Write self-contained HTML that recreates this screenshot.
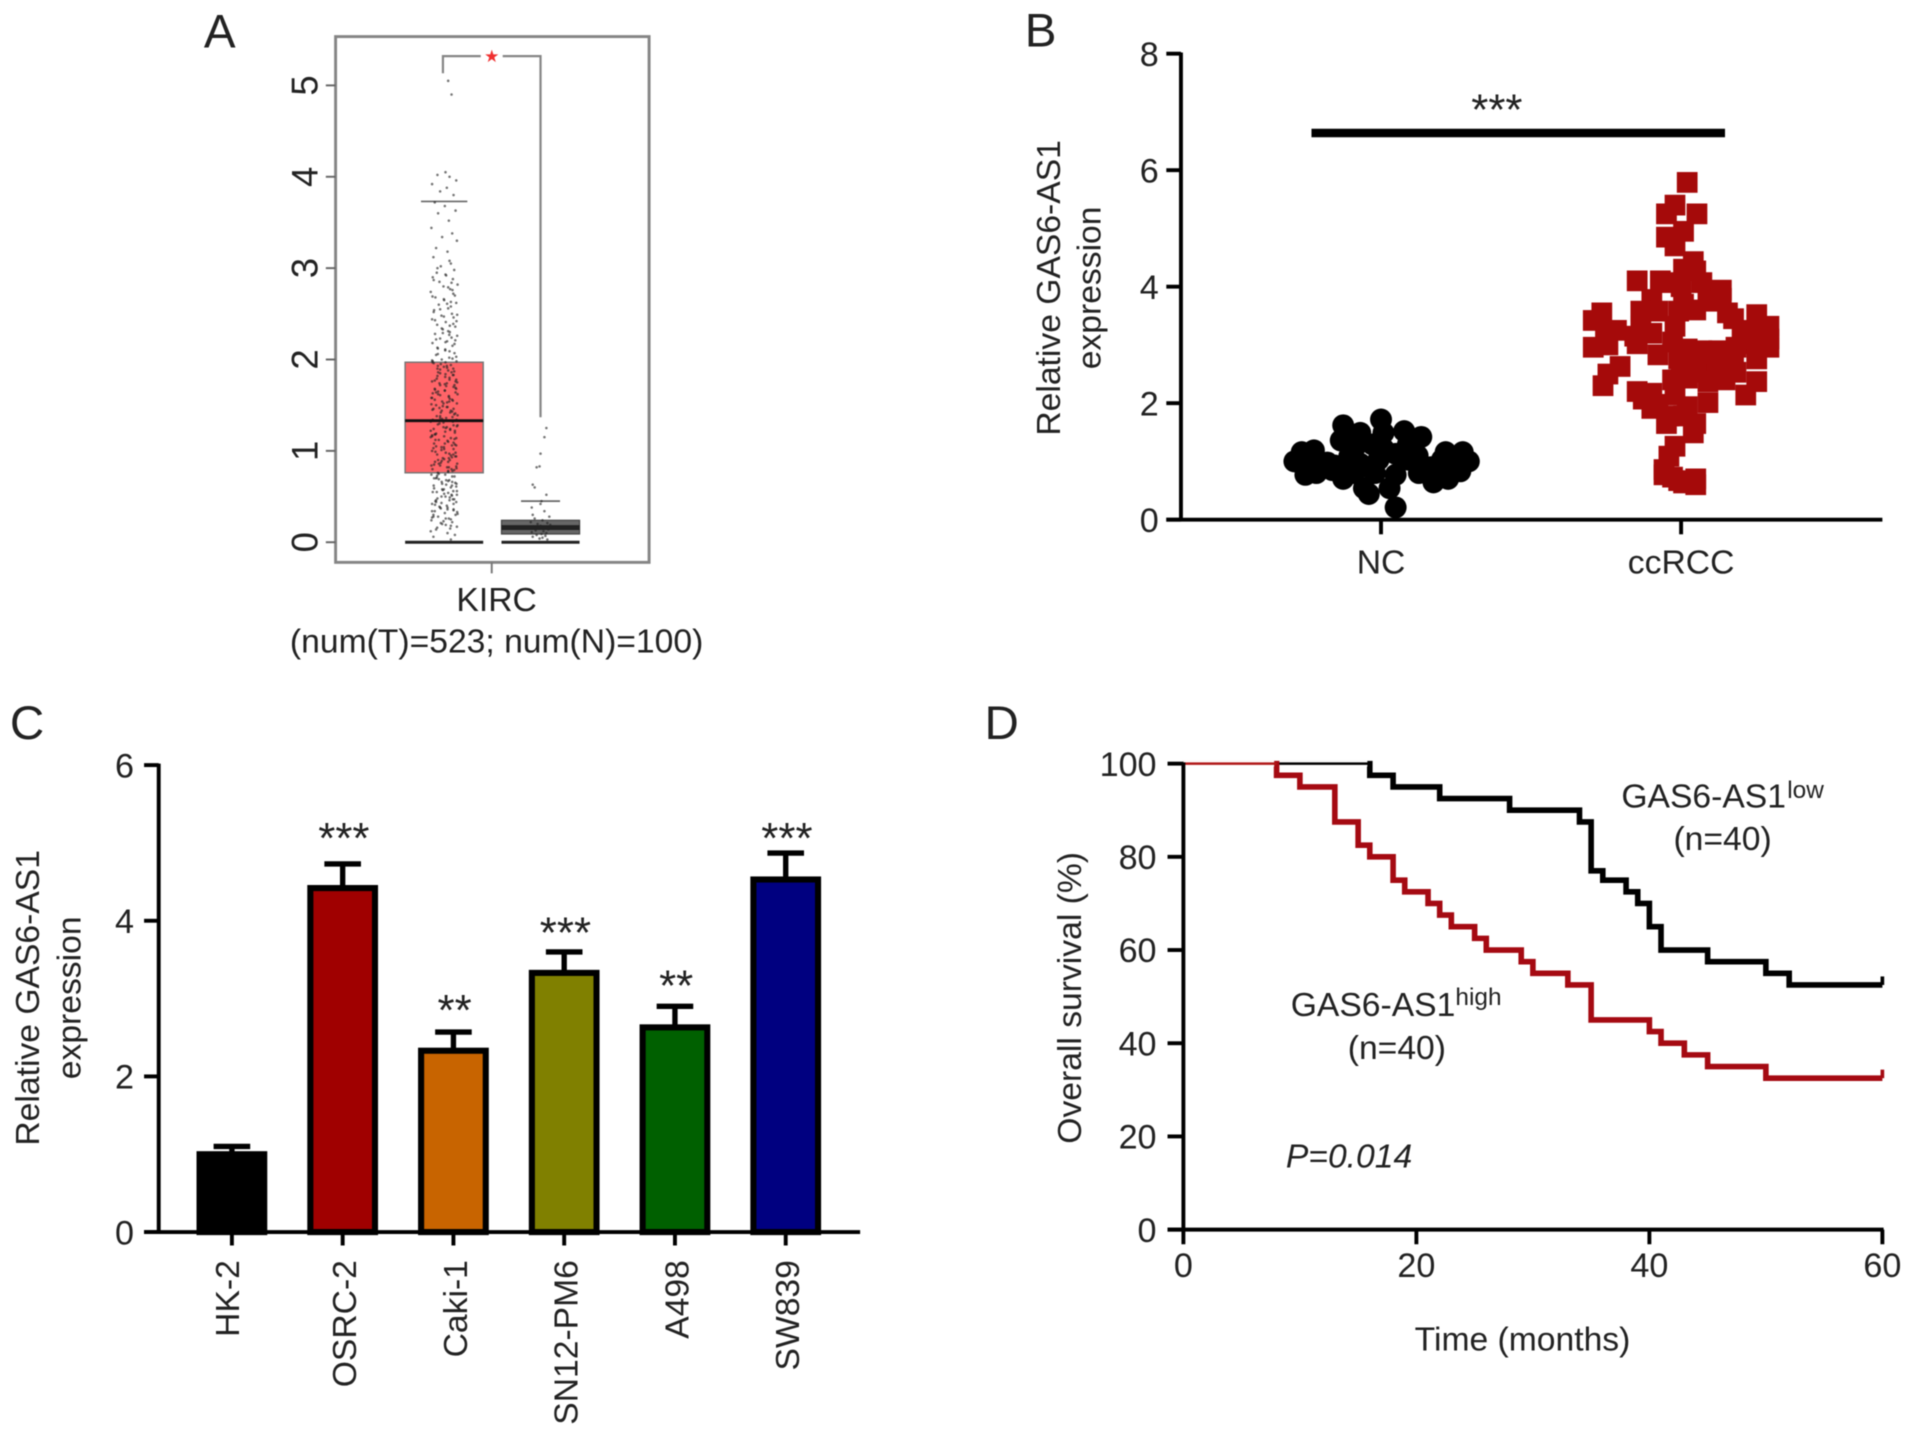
<!DOCTYPE html>
<html lang="en">
<head>
<meta charset="utf-8">
<title>GAS6-AS1 expression figure</title>
<style>
html,body{margin:0;padding:0;background:#fff;width:1913px;height:1437px;overflow:hidden}
svg{display:block;filter:blur(.55px)}
text{font-family:"Liberation Sans",sans-serif;fill:#222}
</style>
</head>
<body>
<svg id="fig" xmlns="http://www.w3.org/2000/svg" width="1913" height="1437" viewBox="0 0 1568 1178"></svg>
<script>
// ---------- Panel A data ----------
const boxTicksA = [0, 1, 2, 3, 4, 5];
const tumorBox = { low: 0, q1: 0.76, median: 1.33, q3: 1.97, high: 3.73 };
const normalBox = { low: 0, q1: 0.09, median: 0.16, q3: 0.24, high: 0.45 };
const tumorValues = [5.05,4.9,4.05,4.02,4.0,3.96,3.92,3.88,3.84,3.8,3.72,3.68,3.63,3.6,3.52,3.44,3.38,3.34,3.3,3.22,3.18,3.12,3.05,3.02,2.98,2.95,2.92,2.9,2.88,2.85,2.82,2.8,2.77,2.74,2.7,2.68,2.65,2.62,2.6,2.56,2.54,2.5,2.48,2.46,2.44,2.41,2.38,2.36,2.33,2.3,2.28,2.26,2.23,2.2,2.18,2.15,2.12,2.1,2.07,2.05,2.02,2.0,1.98,1.96,1.94,1.92,1.9,1.88,1.86,1.84,1.82,1.8,1.78,1.76,1.74,1.72,1.7,1.68,1.66,1.64,1.62,1.6,1.58,1.56,1.54,1.52,1.5,1.48,1.46,1.44,1.42,1.4,1.38,1.36,1.34,1.32,1.3,1.28,1.26,1.24,1.22,1.2,1.18,1.16,1.14,1.12,1.1,1.08,1.06,1.04,1.02,1.0,0.98,0.96,0.94,0.92,0.9,0.88,0.86,0.84,0.82,0.8,0.78,0.76,0.74,0.72,0.7,0.68,0.66,0.64,0.62,0.6,0.58,0.56,0.54,0.52,0.5,0.48,0.46,0.44,0.42,0.4,0.38,0.36,0.34,0.32,0.3,0.28,0.26,0.24,0.22,0.2,0.17,0.14,0.1,0.06,0.03,1.95,1.87,1.79,1.71,1.63,1.55,1.47,1.39,1.31,1.23,1.15,1.07,0.99,0.91,0.83,0.75,0.67,0.59,0.51,0.43,0.35,0.27,0.19,0.73,0.65,0.57,0.49,0.41,0.33,1.61,1.53,1.45,1.37,1.29,1.21,1.13,1.05,0.97,0.89,0.81,
2.87,2.63,2.47,2.39,2.31,2.24,2.19,2.13,2.09,2.03,1.99,1.93,1.89,1.83,1.77,1.73,1.69,1.65,1.59,1.51,1.43,1.35,1.27,1.19,1.11,1.03,0.95,0.87,0.79,0.71,0.63,0.55,0.47,0.39,0.31,0.23,0.15,0.12,0.08,0.45,0.53,0.61,0.69,0.77,0.85,0.93,1.01,1.09,1.17,1.25,1.33,1.41,1.49,1.57,1.67,1.75,1.85,1.91,1.97,2.01,2.06,2.11,2.17,2.22,2.27,2.34,2.42,2.52,2.58,2.66,2.72,2.79,2.84,2.93,3.0,3.08,1.06,1.16,1.26,1.36,1.46,1.56,1.66,1.76,1.86,0.92,0.84,0.72,0.64,0.56,0.44,0.36,0.28,0.18,0.37,0.47,0.55,0.68,1.98,1.83,1.74,1.62,1.52,1.42,1.32,1.22,1.12,1.02,0.94,0.86,0.78,0.7,0.62,0.5,0.42,0.34,0.26,0.16,2.21,2.29,2.37,2.43,2.49,2.55,2.61,2.69,2.76,1.93,1.81,1.72,1.64,1.54,1.44,1.34,1.24,1.14,1.04,0.96,0.88,0.8,1.97,1.9,1.78,1.68,1.58,1.48,1.38,1.28,1.18,1.08,0.98,0.9,0.82,0.74,0.66,0.58,0.52,0.46,0.38,0.3,0.25,0.21];
const tumorJitter = [0.3,0.55,0.1,-0.5,0.4,0.9,-0.9,0.2,-0.3,0.7,-0.7,0.05,0.85,-0.45,0.35,-0.95,0.6,-0.15,0.95,-0.6,0.25,-0.8,0.5,-0.25,0.75,-0.55,0.15,-0.85,0.65,-0.35,1,-0.05,0.45,-1,0.8,-0.65,0,0.9,-0.4,0.3,-0.75,0.58,-0.2,0.7,-0.9,0.12,-0.52,0.83,-0.1,0.42,-0.68,0.97,-0.3,0.22,-0.87,0.62,-0.47,0.08,0.77,-0.6,0.38,-0.18,0.92,-0.78,0.5,-0.02,0.68];
const normalValues = [1.25,1.15,0.97,0.82,0.83,0.63,0.6,0.52,0.45,0.42,0.38,0.34,0.3,0.28,0.26,0.24,0.22,0.21,0.2,0.19,0.18,0.17,0.16,0.15,0.14,0.13,0.12,0.11,0.1,0.09,0.08,0.07,0.06,0.05,0.04,0.03];
const normalJitter = [0.3,0.2,0.0,-0.2,-0.05,-0.4,-0.3,0.3,0.05,0.0,-0.45,0.2,-0.4,0.45,-0.3,0.1,-0.5,0.35,-0.15,0.5,0.0,-0.35,0.2,-0.1,0.4,-0.25,0.15,-0.45,0.3,0.05,-0.2,0.25,-0.4,0.1,-0.05,0.35];

// ---------- Panel B data ----------
const ticksB = [0, 2, 4, 6, 8];
const categoriesB = ["NC", "ccRCC"];
const ncValues = [0.21,0.44,0.54,0.54,1.72,1.62,1.52,1.49,1.42,1.36,1.49,1.29,1.29,1.22,1.16,1.19,1.16,1.16,1.09,1.13,1.0,0.96,1.0,0.93,1.0,0.96,1.03,0.9,0.96,1.03,1.03,0.77,0.8,0.7,0.8,0.8,0.77,0.64,0.7,0.8,0.83,1.22,0.98,0.9,1.1,0.85];
const ncOffsets = [12,-10,7,-14,0,-31,19,-17,33,-33,2,22,-7,-22,-65,-55,67,53,-26,12,-71,-65,-53,-38,72,62,50,41,-17,-2,22,-62,-53,-31,-22,-5,12,43,55,31,65,2,-44,-10,30,-40];
const rccValues = [5.79,5.4,5.25,5.25,4.95,4.85,4.7,4.43,4.3,4.27,4.1,4.1,4.07,4.0,3.94,4.07,3.78,3.75,3.7,3.8,3.58,3.58,3.58,3.6,3.55,3.42,3.52,3.45,3.55,3.25,3.32,3.32,3.32,3.25,3.2,3.15,3.2,3.22,3.1,2.96,3.0,3.02,3.05,3.02,2.96,2.96,2.83,2.93,2.9,2.9,2.76,2.8,2.76,2.73,2.7,2.66,2.63,2.5,2.57,2.53,2.53,2.5,2.4,2.43,2.37,2.4,2.37,2.3,2.2,2.17,2.14,2.14,2.01,2.07,1.98,1.94,1.91,1.78,1.78,1.65,1.65,1.49,1.26,1.09,0.86,0.73,0.7,0.63,0.6,0.77,0.67];
const rccOffsets = [5,-5,-12,13,2,-12,-5,10,2,12,-36,-17,17,0,33,-10,-24,22,2,33,-33,-19,-2,12,-65,-72,62,43,38,-53,-33,72,-5,50,-62,-38,-24,62,72,-72,-60,-36,-7,57,45,72,-19,5,17,31,62,43,-2,10,24,36,-50,-60,0,12,45,29,-7,5,22,36,62,-64,-36,-24,53,-5,22,-31,-19,5,-24,-10,2,-12,12,10,-5,-10,-14,-7,12,2,12,-14,-2];

// ---------- Panel C data ----------
const ticksC = [0, 2, 4, 6];
const cellLines = ["HK-2", "OSRC-2", "Caki-1", "SN12-PM6", "A498", "SW839"];
const barMeans = [1.0, 4.42, 2.33, 3.33, 2.63, 4.53];
const barErrors = [0.1, 0.31, 0.24, 0.27, 0.27, 0.34];
const barColors = ["#000000", "#a00000", "#c86400", "#808000", "#006000", "#000080"];
const barStars = ["", "***", "**", "***", "**", "***"];
const starLevels = [0, 5.14, 2.93, 3.92, 3.24, 5.14];

// ---------- Panel D data ----------
const ticksDY = [0, 20, 40, 60, 80, 100];
const ticksDX = [0, 20, 40, 60];
const lowTimes = [0, 16, 18, 22, 28, 34, 35, 36, 38, 39, 40, 41, 45, 50, 52, 60];
const lowSurvival = [100, 97.5, 95, 92.5, 90, 87.5, 77, 75, 72.5, 70, 65, 60, 57.5, 55, 52.5, 52.5];
const highTimes = [0, 8, 10, 13, 15, 16, 18, 19, 21, 22, 23, 25, 26, 29, 30, 33, 35, 40, 41, 43, 45, 50, 60];
const highSurvival = [100, 97.5, 95, 87.5, 82.5, 80, 75, 72.5, 70, 67.5, 65, 62.5, 60, 57.5, 55, 52.5, 45, 42.5, 40, 37.5, 35, 32.5, 32.5];

// ---------- helpers ----------
const NS = "http://www.w3.org/2000/svg";
const fig = document.getElementById("fig");
const FS = 27.6;
function el(tag, attrs, parent) {
  const n = document.createElementNS(NS, tag);
  for (const k in attrs) n.setAttribute(k, attrs[k]);
  (parent || fig).appendChild(n);
  return n;
}
function group(parent) { return el("g", {}, parent); }
function line(p, x1, y1, x2, y2, stroke, w) {
  return el("line", { x1, y1, x2, y2, stroke, "stroke-width": w }, p);
}
function txt(p, s, x, y, size, anchor, rot) {
  const t = el("text", { x, y, "font-size": size, "text-anchor": anchor || "middle" }, p);
  if (rot) t.setAttribute("transform", "rotate(" + rot + " " + x + " " + y + ")");
  t.textContent = s;
  return t;
}

// ---------- panel letters ----------
[["A", 167, 39], ["B", 840, 38], ["C", 8, 606], ["D", 807, 606]].forEach(function (d) {
  const t = txt(fig, d[0], d[1], d[2], 39, "start");
  
  
});

// ---------- Panel A ----------
(function () {
  const g = group();
  
  
  const y = function (v) { return 444.5 - v * 74.9; };
  const xT = 364, xN = 443, half = 32;

  const frame = el("rect", { x: 275, y: 30, width: 257, height: 431, fill: "#fff", stroke: "#858585", "stroke-width": 2.4 }, g);
  
  

  boxTicksA.forEach(function (v) {
    const t = line(g, 267, y(v), 275, y(v), "#666", 1.6);
    
    
    const l = txt(g, String(v), 260, y(v), 30, "middle", -90);
    
    
  });
  const xt = line(g, 403, 461, 403, 470, "#777", 1.6);
  
  

  const b1 = el("rect", { x: xT - half, y: y(tumorBox.q3), width: half * 2, height: y(tumorBox.q1) - y(tumorBox.q3), fill: "#ff6468", stroke: "#777", "stroke-width": 1.2 }, g);
  
  
  const b2 = el("rect", { x: xN - half, y: y(normalBox.q3), width: half * 2, height: y(normalBox.q1) - y(normalBox.q3), fill: "#666", stroke: "#444", "stroke-width": 1 }, g);
  
  

  const c1 = line(g, xT - 19, y(tumorBox.high), xT + 19, y(tumorBox.high), "#666", 1.4);
  
  
  const c2 = line(g, xN - 16, y(normalBox.high), xN + 16, y(normalBox.high), "#666", 1.4);
  
  

  tumorValues.forEach(function (v, i) {
    const c = el("circle", { cx: xT + tumorJitter[i % tumorJitter.length] * 11, cy: y(v), r: 1.05, fill: "#222", "fill-opacity": 0.62 }, g);
    
    
  });
  normalValues.forEach(function (v, i) {
    const c = el("circle", { cx: xN + normalJitter[i % normalJitter.length] * 16, cy: y(v), r: 1.05, fill: "#222", "fill-opacity": 0.62 }, g);
    
    
  });

  const m1 = line(g, xT - half, y(tumorBox.median), xT + half, y(tumorBox.median), "#111", 2.4);
  
  
  const m2 = line(g, xN - half, y(normalBox.median), xN + half, y(normalBox.median), "#222", 4);
  
  
  const l1 = line(g, xT - half, y(tumorBox.low), xT + half, y(tumorBox.low), "#222", 2.4);
  
  
  const l2 = line(g, xN - half, y(normalBox.low), xN + half, y(normalBox.low), "#222", 2.4);
  
  

  const br1 = el("polyline", { points: "363,60 363,46 394,46", fill: "none", stroke: "#858585", "stroke-width": 1.8 }, g);
  
  
  const br2 = el("polyline", { points: "412,46 443,46 443,342", fill: "none", stroke: "#858585", "stroke-width": 1.8 }, g);
  
  
  const st = el("text", { x: 403, y: 51, "font-size": 14, "text-anchor": "middle" }, g);
  st.textContent = "★";
  st.style.fill = "#f03030";
  st.style.fontFamily = '"DejaVu Sans",sans-serif';
  
  

  const k = txt(g, "KIRC", 407, 501, FS);
  
  
  const k2 = txt(g, "(num(T)=523; num(N)=100)", 407, 535, FS);
  
  
})();

// ---------- Panel B ----------
(function () {
  const g = group();
  
  
  const y = function (v) { return 426 - v * 47.75; };
  const cx = [1132, 1378];

  ncValues.forEach(function (v, i) {
    const c = el("circle", { cx: cx[0] + ncOffsets[i], cy: y(v), r: 9, fill: "#000" }, g);
    
    
  });
  rccValues.forEach(function (v, i) {
    const r = el("rect", { x: cx[1] + rccOffsets[i] - 8.5, y: y(v) - 8.5, width: 17, height: 17, fill: "#a50a0a" }, g);
    
    
  });

  const ya = line(g, 968, 43, 968, 427, "#000", 3.2);
  
  
  const xa = line(g, 956, 426, 1543, 426, "#000", 3.2);
  
  
  ticksB.forEach(function (v) {
    const t = line(g, 956, y(v), 968, y(v), "#000", 3.2);
    
    
    const l = txt(g, String(v), 942, y(v) + 10, 28);
    
    
  });
  categoriesB.forEach(function (c, i) {
    const t = line(g, cx[i], 426, cx[i], 438, "#000", 3.2);
    
    
    const l = txt(g, c, cx[i], 470, FS);
    
    
  });
  const sb = line(g, 1075, 109, 1414, 109, "#000", 7);
  
  
  const st = txt(g, "***", 1227, 102, 36);
  
  
  const t1 = txt(g, "Relative GAS6-AS1", 869, 236, FS, "middle", -90);
  
  
  const t2 = txt(g, "expression", 902, 236, FS, "middle", -90);
  
  
})();

// ---------- Panel C ----------
(function () {
  const g = group();
  
  
  const y = function (v) { return 1010 - v * 63.8; };
  const x = function (i) { return 190 + i * 90.8; };

  cellLines.forEach(function (name, i) {
    const top = y(barMeans[i] + barErrors[i]);
    const stem = line(g, x(i), top, x(i), y(barMeans[i]), "#000", 4.4);
    
    
    const cap = line(g, x(i) - 15, top, x(i) + 15, top, "#000", 4.4);
    
    
    const r = el("rect", { x: x(i) - 26.5, y: y(barMeans[i]), width: 53, height: 1010 - y(barMeans[i]), fill: barColors[i], stroke: "#000", "stroke-width": 5 }, g);
    
    
    if (barStars[i]) {
      const s = txt(g, barStars[i], x(i) + 1, y(starLevels[i]) + 17, 36);
      
      
    }
    const t = line(g, x(i), 1010, x(i), 1021, "#000", 3.2);
    
    
    const l = txt(g, name, x(i) + (i === 0 ? 6 : 11), 1033, FS, "end", -90);
    
    
  });

  const ya = line(g, 130, 626, 130, 1011, "#000", 3.2);
  
  
  const xa = line(g, 118, 1010, 705, 1010, "#000", 3.2);
  
  
  ticksC.forEach(function (v) {
    const t = line(g, 118, y(v), 130, y(v), "#000", 3.2);
    
    
    const l = txt(g, String(v), 102, y(v) + 10, 28);
    
    
  });
  const t1 = txt(g, "Relative GAS6-AS1", 32, 818, FS, "middle", -90);
  
  
  const t2 = txt(g, "expression", 66, 818, FS, "middle", -90);
  
  
})();

// ---------- Panel D ----------
(function () {
  const g = group();
  
  
  const y = function (v) { return 1008 - v * 3.82; };
  const x = function (t) { return 970 + t * 9.55; };
  function steps(times, vals) {
    let d = "M" + x(times[0]) + " " + y(vals[0]);
    for (let i = 1; i < times.length; i++) {
      d += " L" + x(times[i]) + " " + y(vals[i - 1]) + " L" + x(times[i]) + " " + y(vals[i]);
    }
    return d;
  }
  const lo = el("path", { d: steps(lowTimes, lowSurvival), fill: "none", stroke: "#000", "stroke-width": 4.6 }, g);
  
  
  const mask = line(g, x(0), y(100), x(lowTimes[1]) - 2, y(100), "#fff", 5);
  
  
  const thin = line(g, x(0), y(100), x(lowTimes[1]), y(100), "#000", 2);
  
  
  const hi = el("path", { d: steps(highTimes, highSurvival), fill: "none", stroke: "#a50a12", "stroke-width": 4.6 }, g);
  
  
  const mask2 = line(g, x(0), y(100), x(highTimes[1]) - 2, y(100), "#fff", 5);
  
  
  const startRed = line(g, x(0), y(100), x(highTimes[1]), y(100), "#b01818", 2);
  
  
  const cen1 = line(g, x(60), y(lowSurvival[lowSurvival.length - 1]), x(60), y(lowSurvival[lowSurvival.length - 1]) - 7, "#000", 3);
  
  
  const cen2 = line(g, x(60), y(highSurvival[highSurvival.length - 1]), x(60), y(highSurvival[highSurvival.length - 1]) - 7, "#a50a12", 3);
  
  

  const ya = line(g, 970, 625, 970, 1009, "#000", 3.2);
  
  
  const xa = line(g, 957, 1008, 1544, 1008, "#000", 3.2);
  
  
  ticksDY.forEach(function (v) {
    const t = line(g, 957, y(v), 970, y(v), "#000", 3.2);
    
    
    const l = txt(g, String(v), 948, y(v) + 10, 28, "end");
    
    
  });
  ticksDX.forEach(function (v) {
    const t = line(g, x(v), 1008, x(v), 1020, "#000", 3.2);
    
    
    const l = txt(g, String(v), x(v), 1047, 28);
    
    
  });
  const yt = txt(g, "Overall survival (%)", 886, 818, FS, "middle", -90);
  
  
  const xt = txt(g, "Time (months)", 1248, 1107, FS);
  
  

  const a = txt(g, "GAS6-AS1", 1329, 662, FS, "start");
  
  
  const a2 = txt(g, "low", 1465, 654, 20, "start");
  
  
  const a3 = txt(g, "(n=40)", 1412, 697, FS);
  
  
  const b = txt(g, "GAS6-AS1", 1058, 833, FS, "start");
  
  
  const b2 = txt(g, "high", 1193, 824, 20, "start");
  
  
  const b3 = txt(g, "(n=40)", 1145, 868, FS);
  
  
  const p = txt(g, "P=0.014", 1054, 957, FS, "start");
  p.setAttribute("font-style", "italic");
  
  
})();
</script>
</body>
</html>
